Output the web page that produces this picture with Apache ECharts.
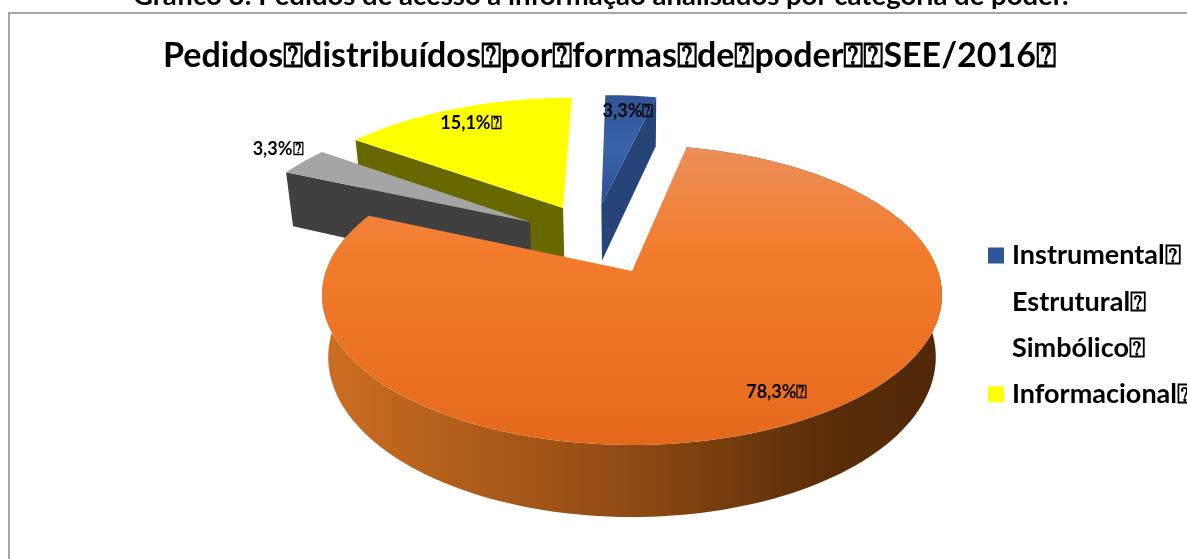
<!DOCTYPE html>
<html><head><meta charset="utf-8">
<style>html,body{margin:0;padding:0;background:#fff;overflow:hidden}#c{width:1187px;height:559px}</style>
<script src="https://cdn.jsdelivr.net/npm/echarts@6/dist/echarts.min.js"></script>
</head><body><div id="c"></div>
<script>
const categories = ['Instrumental', 'Estrutural', 'Simbólico', 'Informacional'];
const values = [3.3, 78.3, 3.3, 15.1];
const mark = '\u2370';
const caption = 'Gráfico 3: Pedidos de acesso à informação analisados por categoria de poder.';
const chartTitle = `Pedidos${mark}distribuídos${mark}por${mark}formas${mark}de${mark}poder${mark}${mark}SEE/2016${mark}`;

// styling and projection of the 3D disc
const swatches = ['#2f5597', '#ffffff', '#ffffff', '#ffff00'];
const explode = [[-0.108, -0.49], [0, 0], [-0.352, -0.354], [-0.242, -0.463]];
const labelAt = [[-0.016, -1.327], [0.418, 0.731], [-1.335, -0.964], [-0.628, -1.208]];
const walls = [['end'], ['rim'], ['start'], ['start']];
const drawOrder = [1, 4, 3, 2]; // z per slice
const topFill = [
  {type:'linear',x:0,y:0,x2:0,y2:1,colorStops:[{offset:0,color:'#2f5597'},{offset:.5,color:'#3a62a8'},{offset:1,color:'#2c508e'}]},
  {type:'linear',x:0,y:0,x2:0,y2:1,colorStops:[{offset:0,color:'#ec8f5a'},{offset:.35,color:'#f37c2c'},{offset:1,color:'#e5691c'}]},
  '#a5a5a5', '#ffff00'
];
const wallFill = [
  '#264478',
  {type:'linear',x:0,y:0,x2:1,y2:0,colorStops:[{offset:0,color:'#cc6e22'},{offset:.5,color:'#8f4a13'},{offset:.8,color:'#5c2e09'},{offset:1,color:'#4f2808'}]},
  '#404040', '#686800'
];
const CX = 632, CY = 295, C = -0.16, A = 150, D = 306, B = -24, DEPTH = 60.5, NARROW = 0.98;

function project(u, v, down) {
  const w = 1 + C * v;
  const x = D * u / w, y = (A * v + B) / w;
  return down ? [CX + x * NARROW, CY + y + DEPTH / w] : [CX + x, CY + y];
}
const total = values.reduce((a, b) => a + b, 0);

function renderSlice(i) {
  return function (params, api) {
    const val = api.value(0);
    const before = values.slice(0, i).reduce((a, b) => a + b, 0);
    const t0 = before / total * 2 * Math.PI, t1 = (before + val) / total * 2 * Math.PI;
    const [ex, ey] = explode[i];
    const rim = [];
    const n = Math.max(4, Math.round((t1 - t0) / 0.03));
    for (let k = 0; k <= n; k++) {
      const t = t0 + (t1 - t0) * k / n;
      rim.push([ex + Math.sin(t), ey - Math.cos(t)]);
    }
    const P = (p, d) => project(p[0], p[1], d);
    const hub = [ex, ey];
    const kids = [];
    const wallPoly = pts => kids.push({type:'polygon', shape:{points:pts}, style:{fill:wallFill[i]}});
    if (walls[i].includes('start')) wallPoly([P(hub), P(rim[0]), P(rim[0], 1), P(hub, 1)]);
    if (walls[i].includes('end')) wallPoly([P(hub), P(rim[n]), P(rim[n], 1), P(hub, 1)]);
    if (walls[i].includes('rim')) wallPoly(rim.map(p => P(p)).concat(rim.slice().reverse().map(p => P(p, 1))));
    kids.push({type:'polygon', shape:{points:[P(hub)].concat(rim.map(p => P(p)))}, style:{fill:topFill[i]}});
    const lp = P(labelAt[i]);
    kids.push({type:'text', x:lp[0], y:lp[1], style:{
      text: val.toFixed(1).replace('.', ',') + '%' + mark,
      fontFamily:'Lato, "DejaVu Sans"', fontWeight:'bold', fontSize:18, fill:'#000',
      align:'center', verticalAlign:'middle'}});
    return {type:'group', children:kids};
  };
}

const chart = echarts.init(document.getElementById('c'), null, {renderer:'canvas'});
chart.setOption({
  animation:false,
  backgroundColor:'#fff',
  title:[
    {text:caption, left:133, top:-18, padding:0, textStyle:{fontFamily:'Lato',fontWeight:'bold',fontSize:27.5,color:'#000'}},
    {text:chartTitle, left:163, top:39, padding:0, textStyle:{fontFamily:'Lato, "DejaVu Sans"',fontWeight:'bold',fontSize:34,color:'#000'}}
  ],
  legend:{
    orient:'vertical', left:988, top:242, padding:0, itemWidth:16, itemHeight:16, itemGap:19.3, icon:'rect',
    textStyle:{fontFamily:'Lato, "DejaVu Sans"',fontWeight:'bold',fontSize:27,color:'#000',padding:[0,0,0,3]},
    formatter:n => n + mark,
    data:categories.map((name,i)=>({name, itemStyle:{color:swatches[i]}}))
  },
  graphic:[
    {type:'line', shape:{x1:8,y1:13,x2:1187,y2:13}, style:{stroke:'#a6a6a6',lineWidth:2}},
    {type:'line', shape:{x1:9,y1:13,x2:9,y2:559}, style:{stroke:'#a6a6a6',lineWidth:2}}
  ],
  series:categories.map((name,i)=>({
    type:'custom', name, coordinateSystem:'none', z:drawOrder[i]+2, silent:true,
    itemStyle:{color:swatches[i]}, data:[[values[i]]], renderItem:renderSlice(i)
  }))
});
</script></body></html>
